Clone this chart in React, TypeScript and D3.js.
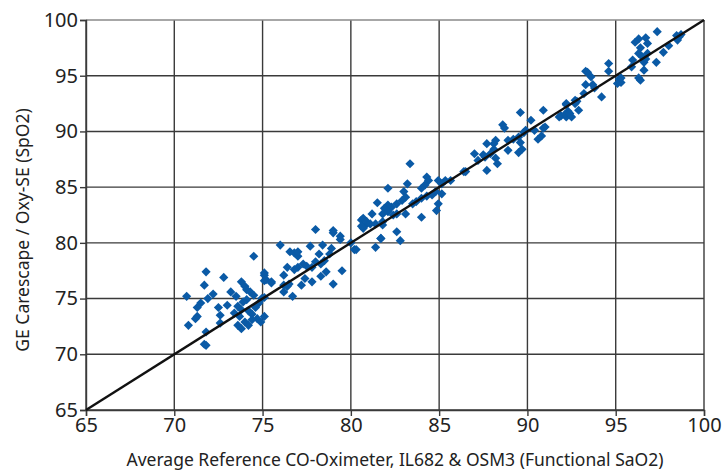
import { useRef, useEffect } from "react";
import * as d3 from "d3";

// reference CO-oximeter SaO2 (x) vs device SpO2 (y)
const refSaO2 = [
  74.5, 71.8, 72.8, 71.7, 73.8, 74.0, 74.1, 73.2, 72.2, 71.9, 70.7, 73.5, 74.3, 74.5, 74.1, 75.1,
  75.1, 75.5, 74.95, 75.1, 74.8, 71.5, 71.3, 72.5, 73.0, 72.6, 71.3, 71.2, 73.6, 73.8, 73.4, 73.7,
  74.2, 74.4, 74.6, 74.7, 75.1, 74.9, 74.0, 74.2, 73.6, 73.8, 72.6, 70.8, 71.8, 71.7, 71.8, 74.4,
  73.9,
  78.0, 79.0, 79.0, 79.4, 79.4, 80.0, 80.2, 80.6, 80.9, 80.7, 76.0, 76.55, 76.8, 77.0, 77.0, 77.7,
  78.4, 78.2, 78.9, 78.8, 78.5, 78.3, 78.0, 77.8, 77.5, 77.3, 77.0, 76.8, 76.4, 76.2, 77.4, 77.2,
  76.5, 77.8, 78.6, 78.3, 79.0, 79.5, 75.1, 75.2, 75.5, 76.7, 76.2, 76.4, 76.2,
  83.35, 84.3, 84.4, 84.2, 84.0, 83.2, 82.1, 83.0, 83.1, 82.9, 82.6, 82.3, 82.1, 81.9, 81.5, 81.8,
  82.1, 82.4, 82.6, 83.1, 83.5, 83.7, 84.0, 84.3, 84.6, 84.8, 84.95, 85.35, 85.65, 85.15, 85.15, 84.95,
  84.85, 84.0, 80.7, 80.6, 81.2, 80.9, 81.1, 81.4, 81.8, 81.8, 81.7, 82.6, 82.8, 81.4, 80.3, 86.4,
  81.7,
  89.6, 90.9, 92.2, 91.9, 92.2, 90.2, 88.6, 88.7, 89.9, 89.8, 90.4, 90.9, 90.6, 90.8, 89.5, 89.2,
  88.9, 89.6, 89.5, 89.7, 88.9, 88.2, 88.1, 87.7, 88.1, 87.9, 87.6, 88.2, 88.3, 87.7, 87.0, 87.2,
  86.5, 87.5,
  97.35, 98.45, 98.6, 98.5, 98.7, 96.3, 96.7, 96.8, 96.1, 96.4, 96.3, 96.5, 96.6, 96.7, 96.8, 97.3,
  97.7, 98.0, 95.96, 96.6, 96.3, 96.4, 95.9, 95.2, 95.3, 95.1, 95.3, 94.6, 94.6, 93.3, 93.4, 93.6,
  93.7, 93.3, 93.2, 93.8, 94.2, 92.7, 92.8, 92.7, 92.2, 92.9, 92.3, 92.1, 92.5, 91.8, 92.4, 91.0,
];

const deviceSpO2 = [
  78.8, 77.4, 76.9, 76.2, 76.5, 76.1, 75.8, 75.6, 75.4, 75.0, 75.2, 75.2, 75.6, 75.3, 74.9, 77.3,
  76.6, 76.5, 75.0, 75.1, 74.6, 74.6, 74.2, 74.2, 74.4, 73.5, 73.4, 73.2, 74.3, 74.0, 73.7, 73.4,
  73.9, 73.6, 74.2, 73.2, 73.4, 72.9, 72.9, 72.6, 72.6, 72.3, 72.8, 72.6, 72.0, 70.9, 70.8, 73.1,
  74.7,
  81.2, 81.1, 80.9, 80.6, 80.3, 80.0, 79.4, 82.05, 81.7, 81.3, 79.8, 79.2, 79.1, 78.8, 79.2, 79.7,
  79.8, 79.0, 79.5, 79.0, 78.4, 78.1, 78.3, 77.8, 77.9, 78.1, 77.8, 77.6, 77.8, 77.1, 76.8, 76.2,
  76.3, 76.5, 77.4, 77.0, 76.3, 77.5, 77.1, 76.7, 76.4, 75.2, 76.2, 76.1, 75.6,
  87.1, 85.9, 85.6, 85.2, 84.9, 85.3, 84.9, 84.6, 84.1, 83.8, 83.5, 83.2, 83.4, 83.1, 83.6, 82.6,
  82.8, 82.5, 82.6, 82.6, 83.5, 83.7, 84.0, 84.2, 84.3, 84.6, 85.6, 85.6, 85.6, 85.3, 84.4, 83.5,
  82.9, 82.3, 82.2, 81.5, 82.6, 81.9, 81.7, 81.7, 81.9, 81.6, 80.4, 81.0, 80.2, 79.6, 79.4, 86.4,
  80.4,
  91.7, 91.9, 92.4, 91.4, 91.3, 91.0, 90.6, 90.3, 90.1, 89.9, 90.1, 90.3, 89.3, 89.6, 89.5, 89.3,
  89.2, 89.0, 88.1, 88.4, 88.3, 89.2, 88.9, 88.9, 88.4, 88.0, 87.7, 87.6, 87.1, 86.5, 88.0, 87.4,
  86.4, 87.9,
  98.95, 98.6, 98.5, 98.2, 98.7, 98.3, 98.4, 97.9, 98.0, 97.5, 97.0, 96.7, 96.2, 96.5, 97.0, 96.2,
  97.1, 97.7, 96.4, 95.5, 94.8, 94.6, 95.8, 94.7, 94.4, 94.3, 94.8, 96.1, 95.4, 95.4, 95.3, 94.9,
  94.2, 94.2, 93.4, 93.9, 93.1, 92.8, 92.7, 92.5, 92.5, 91.9, 91.8, 91.5, 91.3, 91.3, 91.6, 90.4,
];

const axisTicks = [65, 70, 75, 80, 85, 90, 95, 100];
const xTitle = "Average Reference CO-Oximeter, IL682 & OSM3 (Functional SaO2)";
const yTitle = "GE Carescape / Oxy-SE (SpO2)";

const App = () => {
  const svgRef = useRef<SVGSVGElement>(null);

  useEffect(() => {
    document.body.style.margin = "0";
    const W = 723;
    const H = 471;
    const m = { left: 86, right: 19, top: 20, bottom: 61 };
    const font = "'Noto Sans', sans-serif";

    const svg = d3.select(svgRef.current);
    svg.selectAll("*").remove();
    svg.attr("width", W).attr("height", H).style("display", "block").style("background", "#fff");

    const x = d3.scaleLinear().domain([65, 100]).range([m.left, W - m.right]);
    const y = d3.scaleLinear().domain([65, 100]).range([H - m.bottom, m.top]);

    // grid
    const grid = svg.append("g");
    grid
      .selectAll(".vg")
      .data(axisTicks)
      .join("line")
      .attr("x1", (d) => x(d))
      .attr("x2", (d) => x(d))
      .attr("y1", m.top)
      .attr("y2", H - m.bottom)
      .attr("stroke", "#3a3a3a")
      .attr("stroke-width", 1.4);
    grid
      .selectAll(".hg")
      .data(axisTicks)
      .join("line")
      .attr("x1", m.left)
      .attr("x2", W - m.right)
      .attr("y1", (d) => y(d))
      .attr("y2", (d) => y(d))
      .attr("stroke", (d) => (d === 100 ? "#8a8a8a" : "#3a3a3a"))
      .attr("stroke-width", 1.4);

    // axes
    const xAxis = d3.axisBottom(x).tickValues(axisTicks).tickSize(6).tickPadding(2);
    const xg = svg.append("g").attr("transform", `translate(0,${H - m.bottom})`).call(xAxis);
    const yAxis = d3.axisLeft(y).tickValues(axisTicks).tickSize(6).tickPadding(2);
    const yg = svg.append("g").attr("transform", `translate(${m.left},0)`).call(yAxis);
    [xg, yg].forEach((g) => {
      g.select(".domain").attr("stroke", "#3a3a3a").attr("stroke-width", 1.4);
      g.selectAll(".tick line").attr("stroke", "#3a3a3a").attr("stroke-width", 1.4);
      g.selectAll(".tick text")
        .attr("fill", "#222")
        .style("font-family", font)
        .style("font-size", "20px");
    });

    // points
    const pts = refSaO2.map((v, i) => [v, deviceSpO2[i]]);
    const diamond = d3.symbol(d3.symbolSquare, 42);
    svg
      .append("g")
      .selectAll("path")
      .data(pts)
      .join("path")
      .attr("d", diamond)
      .attr("transform", (d) => `translate(${x(d[0])},${y(d[1])}) rotate(45)`)
      .attr("fill", "#0a5aa6");

    // identity line
    const line = d3
      .line<number>()
      .x((d) => x(d))
      .y((d) => y(d));
    svg
      .append("path")
      .attr("d", line([65, 100]))
      .attr("stroke", "#111")
      .attr("stroke-width", 2.4)
      .attr("fill", "none");

    // titles
    svg
      .append("text")
      .attr("x", (m.left + W - m.right) / 2)
      .attr("y", 466)
      .attr("text-anchor", "middle")
      .style("font-family", font)
      .style("font-size", "17.5px")
      .attr("fill", "#222")
      .text(xTitle);
    svg
      .append("text")
      .attr("transform", `translate(29,230) rotate(-90)`)
      .attr("text-anchor", "middle")
      .style("font-family", font)
      .style("font-size", "17.5px")
      .attr("fill", "#222")
      .text(yTitle);
  }, []);

  return <svg ref={svgRef}></svg>;
};

export default App;
